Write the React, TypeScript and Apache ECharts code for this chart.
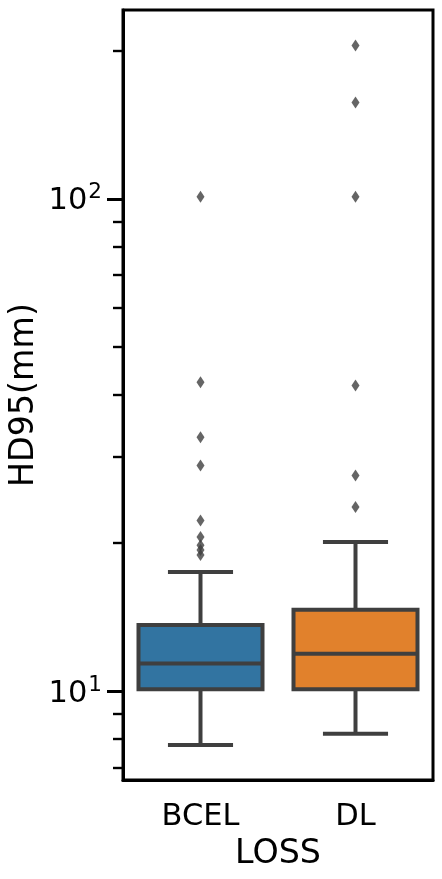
import React, { useEffect, useRef } from "react";
import * as echarts from "echarts";

const categories = ["BCEL", "DL"];
const boxColors = ["#3274a1", "#e1812c"];
const whiskerLow = [7.77, 8.19];
const q1 = [10.09, 10.09];
const median = [11.38, 11.91];
const q3 = [13.62, 14.64];
const whiskerHigh = [17.47, 20.09];
const outliersBCEL = [101, 42.4, 32.8, 28.75, 22.23, 20.56, 19.8, 19.35, 18.9];
const outliersDL = [205, 157, 101, 41.8, 27.44, 23.66];
const yMajorTicks = [10, 100];
const yMinorTicks = [7, 8, 9, 20, 30, 40, 50, 60, 70, 80, 90, 200];
const yMin = 6.6;
const yMax = 242;

const FONT = "DejaVu Sans";
const EDGE = "#3f3f3f";

export default function App() {
  const ref = useRef<HTMLDivElement>(null);
  useEffect(() => {
    if (!ref.current) return;
    const chart = echarts.init(ref.current, null, { renderer: "svg" });
    const boxData = categories.map((_, i) => [i, whiskerLow[i], q1[i], median[i], q3[i], whiskerHigh[i]]);
    const outlierData = [
      ...outliersBCEL.map((v) => [0, v]),
      ...outliersDL.map((v) => [1, v]),
    ];
    const option: any = {
      animation: false,
      grid: {
        left: 123,
        right: 9,
        top: 10,
        bottom: 99,
        containLabel: false,
        outerBoundsMode: "none",
        show: true,
        borderColor: "#000",
        borderWidth: 3,
        backgroundColor: "transparent",
      },
      xAxis: {
        type: "category",
        data: categories,
        axisLine: { lineStyle: { color: "#000", width: 3 } },
        axisTick: { alignWithLabel: true, length: 16, lineStyle: { color: "#000", width: 3 } },
        axisLabel: { color: "#000", fontSize: 30.5, fontFamily: FONT, margin: 19 },
        name: "LOSS",
        nameLocation: "middle",
        nameGap: 52,
        nameTextStyle: { color: "#000", fontSize: 33.3, fontFamily: FONT },
      },
      yAxis: [
        {
          type: "log",
          logBase: 10,
          min: yMin,
          max: yMax,
          splitLine: { show: false },
          axisLine: { show: true, lineStyle: { color: "#000", width: 3 } },
          axisTick: { show: true, customValues: yMajorTicks, length: 16, lineStyle: { color: "#000", width: 3 } },
          axisLabel: {
            customValues: yMajorTicks,
            margin: 21,
            formatter: (v: number) => `{b|10}{s|${Math.round(Math.log10(v))}}`,
            rich: {
              b: { fontSize: 30.5, fontFamily: FONT, color: "#000" },
              s: { fontSize: 21.5, fontFamily: FONT, color: "#000", padding: [0, 0, 16, 1] },
            },
          },
          name: "HD95(mm)",
          nameLocation: "middle",
          nameRotate: 90,
          nameGap: 75,
          nameTextStyle: { color: "#000", fontSize: 33.3, fontFamily: FONT },
        },
        {
          type: "log",
          logBase: 10,
          min: yMin,
          max: yMax,
          position: "left",
          splitLine: { show: false },
          axisLine: { show: false },
          axisTick: { show: true, customValues: yMinorTicks, length: 10, lineStyle: { color: "#000", width: 2.4 } },
          axisLabel: { show: false },
        },
      ],
      series: [
        {
          type: "custom",
          data: boxData,
          encode: { x: 0, y: [1, 2, 3, 4, 5] },
          z: 2,
          renderItem: (params: any, api: any) => {
            const i = api.value(0);
            const lo = api.value(1);
            const a = api.value(2);
            const m = api.value(3);
            const b = api.value(4);
            const hi = api.value(5);
            const pm = api.coord([i, m]);
            const bw = api.coord([1, m])[0] - api.coord([0, m])[0];
            const x = pm[0];
            const yLo = api.coord([i, lo])[1];
            const yA = api.coord([i, a])[1];
            const yB = api.coord([i, b])[1];
            const yHi = api.coord([i, hi])[1];
            const half = bw * 0.4;
            const cap = bw * 0.21;
            const ls = { stroke: EDGE, lineWidth: 4 };
            return {
              type: "group",
              children: [
                { type: "line", shape: { x1: x, y1: yLo, x2: x, y2: yA }, style: ls },
                { type: "line", shape: { x1: x, y1: yB, x2: x, y2: yHi }, style: ls },
                { type: "line", shape: { x1: x - cap, y1: yLo, x2: x + cap, y2: yLo }, style: ls },
                { type: "line", shape: { x1: x - cap, y1: yHi, x2: x + cap, y2: yHi }, style: ls },
                {
                  type: "rect",
                  shape: { x: x - half, y: yB, width: half * 2, height: yA - yB },
                  style: { fill: boxColors[i], stroke: EDGE, lineWidth: 4 },
                },
                { type: "line", shape: { x1: x - half, y1: pm[1], x2: x + half, y2: pm[1] }, style: ls },
              ],
            };
          },
        },
        {
          type: "scatter",
          data: outlierData,
          symbol: "diamond",
          symbolSize: [8, 12],
          itemStyle: { color: EDGE },
          z: 3,
        },
      ],
    };
    chart.setOption(option);
    return () => chart.dispose();
  }, []);
  return <div ref={ref} style={{ position: "fixed", left: 0, top: 0, width: 442, height: 879 }} />;
}
